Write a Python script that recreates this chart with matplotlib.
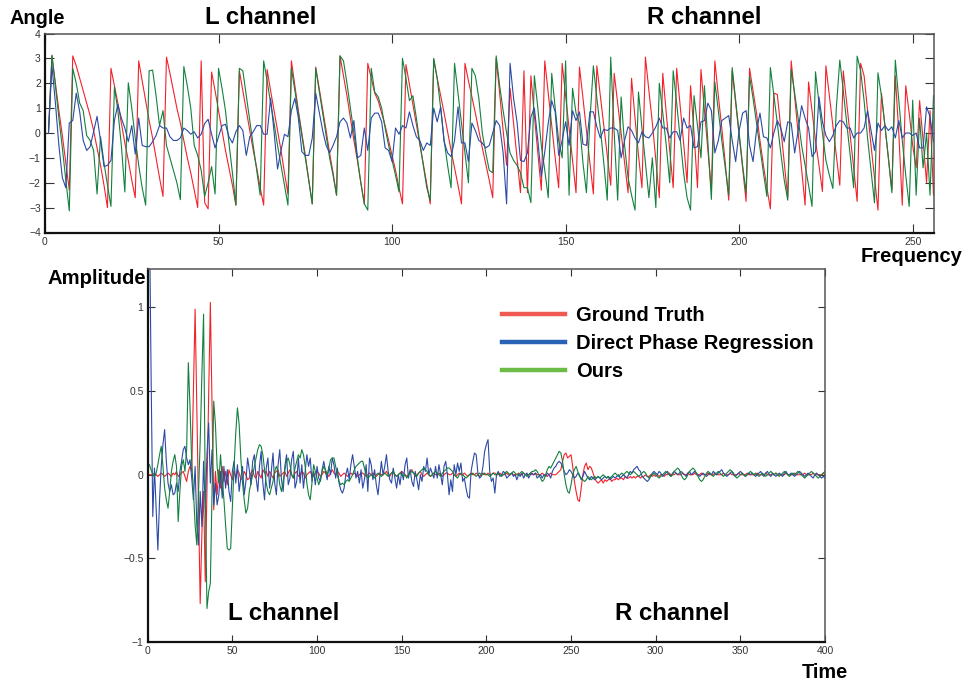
import numpy as np
import matplotlib
matplotlib.use("Agg")
import matplotlib.pyplot as plt
from matplotlib.lines import Line2D

plt.rcParams['font.family'] = ['Liberation Sans', 'DejaVu Sans']

# ---------------- top panel: phase angle per frequency bin (1..256) ----------------
angle_gt = [
 0.0, 3.1, 2.0, 0.9, -0.1, -1.2, -2.3, 3.1, 2.7, 2.2, 1.7, 1.2, 0.7, 0.1, -0.6, -1.3, -2.1, -3.0, 2.6, 1.9,
 1.2, 0.4, -0.4, -1.1, -1.9, -2.6, 2.9, 2.1, 1.3, 0.5, -0.2, -1.0, -1.8, -2.55, 3.05, 2.4, 1.7, 1.0, 0.4, -0.3,
 -1.0, -1.6, -2.3, -3.0, 2.9, -2.8, -3.05, 2.45, 1.7, 0.9, 0.1, -0.7, -1.4, -2.1, -2.9, 2.5, 1.7, 0.9, 0.1, -0.7,
 -1.4, -2.2, -2.9, 2.55, 1.7, 0.9, 0.1, -0.7, -1.6, -2.45, 2.9, 1.9, 0.9, 0.0, -0.9, -1.9, -2.85, 2.65, 1.8, 0.95,
 0.1, -0.8, -1.6, -2.5, 3.1, 2.3, 1.5, 0.6, -0.3, -1.1, -2.0, -2.85, 2.8, 2.2, 1.6, 1.3, 0.8, 0.3, -0.3, -0.9,
 -1.5, -2.2, -2.85, 2.75, 1.95, 1.15, 0.35, -0.45, -1.25, -2.05, -2.85, 2.95, 2.2, 1.5, 0.8, 0.05, -0.7, -1.4, -2.1, -2.85,
 2.8, 2.1, 1.45, 0.8, 0.1, -0.6, -1.25, -1.9, -2.6, 3.0, 1.6, 0.1, -1.3, 1.8, 0.4, -1.0, -2.4, 2.5, -2.4, 2.3,
 0.7, -0.8, -2.3, 2.9, 1.6, 0.3, -1.0, -2.2, 2.8, 1.5, 0.2, -1.1, -2.4, 2.65, 1.4, 0.1, -1.2, -2.45, 2.7, 1.5,
 0.3, -0.9, -2.1, 2.4, 1.2, 0.0, -1.2, -2.4, 2.2, 0.6, -0.9, -2.2, 3.05, 1.7, 0.4, -1.1, -2.6, 2.4, 0.8, -0.7,
 -2.2, 2.6, 1.1, -0.4, -2.0, 1.9, 0.0, -2.2, 2.55, 0.9, -0.7, -2.3, 2.9, 1.5, 0.2, -1.2, -2.7, 2.5, 1.2, -0.1,
 -1.4, -2.75, 2.6, 1.7, 0.8, -0.3, -1.3, -2.2, -3.05, 1.6, 1.55, 0.2, -1.2, -2.6, 2.9, 1.45, 0.0, -1.45, -2.9, 2.05,
 0.9, -0.3, -1.3, -2.35, 2.7, 1.5, 0.3, -0.9, -2.1, 2.5, 1.2, -0.1, -1.4, -2.75, 2.8, 2.3, 0.9, -0.5, -1.8, -3.1,
 1.6, 0.3, -1.0, -2.3, 2.3, 0.0, -2.9, 1.9, 0.8, -0.5, -1.4, 1.3, -0.3, -2.0, 0.9, -2.5]

angle_direct = [
 0.0, 2.7, 1.2, -0.5, -1.8, -2.2, 0.4, 0.5, 1.6, 0.85, -0.3, -0.7, -0.55, 0.05, 0.67, -0.3, -1.35, -1.3, -1.1, 0.5,
 1.15, 0.6, 0.2, -0.35, 0.3, -0.85, 0.6, -0.5, -0.55, -0.55, -0.35, -0.1, 0.3, 0.2, 0.2, -0.15, -0.3, -0.3, -0.2, 0.2,
 0.1, -0.05, 0.05, -0.2, -0.05, 0.38, 0.55, -0.05, -0.6, -0.15, 0.3, 0.35, -0.15, -0.4, 0.05, 0.3, 0.1, -0.9, -0.15, 0.05,
 0.3, 0.3, -0.05, -0.05, 1.4, 0.05, -1.45, -0.7, -0.05, -0.15, 0.9, 1.4, 0.6, -0.75, -0.9, -0.9, -0.2, 1.6, 0.85, 0.1,
 -0.5, -0.8, -0.5, -0.15, 0.45, 0.6, 0.4, -0.2, 0.5, -1.0, -0.9, 0.2, -0.7, 0.6, 0.8, 0.8, 0.45, -0.6, -0.7, -1.15,
 0.2, -0.05, 0.3, 0.2, 0.85, 0.3, -0.15, -0.3, -0.7, -0.4, -0.5, 1.0, 0.45, 1.05, -0.35, -0.8, -0.95, -0.3, 1.05, -0.4,
 -0.4, -1.15, 0.4, 0.1, -0.3, -0.4, -0.6, -0.5, 0.0, 0.5, 0.3, -0.8, -2.85, 2.8, 1.4, 0.45, -1.1, -1.15, -0.8, 0.65,
 1.0, -0.3, -1.75, -0.75, 0.4, 1.3, 0.85, -0.9, -0.3, 0.45, -0.5, 0.9, 0.5, 0.85, -0.45, -0.5, 0.85, 0.85, 0.25, -0.2,
 0.15, 0.1, 0.2, 0.2, 0.1, -1.0, -0.3, 0.25, 0.1, -0.2, -0.4, 0.05, -0.15, -0.2, 0.0, 0.25, 0.6, 0.2, 0.2, -0.2,
 0.05, 0.05, -0.3, 0.6, 0.2, 0.3, -0.6, -0.55, 0.45, 0.5, 1.2, 0.9, -0.8, -0.3, 0.5, 0.6, 0.7, -0.3, -1.15, 0.1,
 0.8, 0.9, -0.5, -1.15, 0.1, 0.8, -0.15, -0.2, -0.6, 0.0, 0.5, 0.2, -0.35, 0.45, 0.4, -0.8, 0.1, 1.1, 0.6, 0.2,
 -0.95, -0.75, 1.45, 0.45, -0.1, -0.35, -0.1, 0.3, 0.5, 0.45, 0.2, 0.2, -0.2, 0.0, 0.0, 0.2, 0.9, 0.1, -0.7, 0.4,
 0.1, 0.3, 0.1, 0.25, -0.2, 0.5, -0.2, 0.0, 0.0, -0.1, 0.0, -0.6, -0.6, 1.05, 0.65, -0.35]

angle_ours = [
 0.0, 3.13, 1.9, 0.6, -0.6, -1.9, -3.13, 2.6, 2.0, 1.2, 0.9, -0.1, -0.3, -0.7, -2.45, -0.15, -1.2, -2.1, -2.95, 1.85,
 0.9, -0.5, -2.37, 2.02, 1.0, -0.2, -1.3, -2.2, -2.9, 2.5, 2.53, 1.5, 0.3, 0.9, -0.5, -1.0, -1.5, -2.0, -2.68, 2.67,
 1.9, 1.0, -0.5, -0.9, -1.5, -2.55, -2.0, -1.35, -2.45, 2.6, 1.8, 0.9, -0.4, -1.6, -2.9, 2.6, 2.5, 1.5, 0.5, -0.5,
 -1.5, -2.5, 2.9, 2.1, 1.2, 0.4, -0.5, -1.3, -2.1, -2.9, 2.6, 1.7, 0.8, -0.1, -1.0, -1.9, -2.85, 2.6, 1.7, 0.8,
 -0.1, -1.0, -1.7, -2.5, 3.1, 2.9, 2.0, 1.0, 0.0, -1.0, -2.0, -2.85, -3.1, 2.6, 1.65, 1.45, 1.0, 0.2, -0.5, -1.1,
 -1.7, -2.37, 3.0, 2.2, 1.3, 1.5, 0.6, -0.4, -1.3, -2.2, -2.7, 3.0, 2.2, 1.0, -0.3, -1.3, -2.2, 2.8, 1.6, 0.4,
 -0.8, -2.0, 2.6, 2.3, 1.4, 0.0, -0.8, -1.5, -1.6, 3.1, 1.9, 0.9, 0.0, -0.8, -1.1, -1.3, -1.6, -2.2, -2.2, -2.8,
 2.3, 1.0, -0.5, -1.5, -2.6, 2.4, 1.0, -0.3, -1.0, 2.9, -2.5, 1.8, 0.8, 0.4, -1.2, -2.4, 0.5, 2.7, 1.4, 0.2,
 -1.2, -2.7, 3.05, 0.0, -2.7, 1.45, -0.5, -1.8, -2.5, -3.1, 1.65, 0.2, -1.2, -2.6, -1.0, -3.0, 2.0, 0.8, -0.5, -2.0,
 2.5, 1.2, -0.2, -1.6, -2.6, -3.1, 1.5, 0.3, -1.0, 1.9, -0.4, -2.67, 2.05, 0.9, -0.3, -1.4, -2.5, 2.63, 1.3, 0.0,
 -1.3, -2.4, 2.28, 1.4, 0.4, -0.6, -1.6, -2.55, 2.63, 1.5, 0.4, -0.8, -1.9, -2.7, 2.55, 1.6, 0.6, -0.5, -1.3, -2.1,
 -2.95, 2.46, 1.2, 0.0, -1.1, -1.7, -2.23, 1.0, 2.93, 1.7, 0.4, -0.9, -2.2, 3.09, 2.5, 1.3, -0.2, -1.5, -2.81, 2.42,
 1.5, 0.3, -1.0, -2.4, 2.93, 1.3, -0.3, -1.7, -2.95, 1.32, -2.5, 0.6, -1.4, 0.0, -2.5, 1.5]

# ---------------- bottom panel: time-domain amplitude (1..400) ----------------
amp_gt = [
 0.00, 0.00, 0.00, 0.01, 0.00, -0.01, 0.00, 0.01, 0.00, -0.01, 0.00, 0.01, 0.00, -0.01, 0.01, 0.00, 0.02, -0.01, 0.00, 0.01,
 0.02, -0.01, -0.04, 0.02, 0.05, 0.02, 0.50, 0.99, 0.40, -0.18, -0.77, -0.35, -0.10, -0.64, -0.10, 0.47, 1.03, 0.40, -0.21, 0.02,
 -0.12, 0.03, -0.08, 0.05, -0.04, 0.02, -0.06, 0.03, 0.00, -0.03, 0.02, -0.02, 0.03, 0.01, -0.03, -0.02, 0.02, 0.00, -0.03, -0.02,
 0.01, 0.03, -0.01, -0.02, 0.02, 0.00, -0.02, 0.03, 0.01, 0.02, -0.01, 0.02, 0.00, -0.02, 0.01, 0.02, 0.03, -0.01, 0.00, 0.01,
 0.02, -0.01, 0.01, 0.03, 0.00, -0.02, 0.01, 0.02, -0.01, 0.00, 0.02, 0.01, -0.02, 0.00, 0.01, 0.02, 0.00, -0.01, 0.01, 0.02,
 0.01, -0.01, 0.00, 0.02, 0.01, 0.00, -0.01, 0.01, 0.03, 0.01, 0.00, 0.02, 0.01, -0.01, 0.00, 0.01, 0.00, -0.01, 0.00, 0.01,
 0.00, 0.01, 0.00, -0.01, 0.00, 0.01, 0.01, 0.00, -0.01, 0.00, 0.01, 0.00, 0.01, 0.00, -0.01, 0.00, 0.01, 0.00, 0.00, 0.01,
 0.02, 0.00, -0.01, 0.01, 0.02, 0.00, -0.01, 0.00, 0.01, 0.02, 0.01, 0.00, -0.01, 0.00, 0.02, 0.03, 0.01, -0.01, 0.00, 0.01,
 0.02, 0.00, -0.01, 0.00, 0.01, 0.00, -0.01, 0.00, 0.01, 0.00, 0.00, 0.01, 0.00, -0.01, 0.00, 0.01, 0.01, 0.00, 0.00, 0.01,
 0.00, -0.01, 0.00, 0.01, 0.00, 0.00, 0.01, 0.00, -0.01, 0.00, 0.01, 0.00, 0.00, 0.01, 0.00, -0.01, 0.00, 0.01, 0.00, 0.00,
 0.01, 0.00, 0.00, 0.01, 0.01, 0.00, 0.00, 0.01, 0.00, 0.00, 0.00, 0.01, 0.00, 0.00, 0.01, 0.00, 0.00, 0.00, 0.01, 0.00,
 0.00, 0.01, 0.00, 0.00, 0.00, 0.01, 0.00, 0.00, 0.01, 0.00, 0.00, 0.00, 0.01, 0.00, 0.00, -0.01, 0.00, 0.01, 0.00, 0.00,
 0.00, 0.01, 0.02, 0.03, 0.08, 0.12, 0.13, 0.10, 0.11, 0.12, 0.05, -0.04, -0.10, -0.15, -0.16, -0.08, 0.00, 0.05, 0.07, 0.03,
 0.05, 0.04, 0.01, -0.02, -0.04, -0.05, -0.04, -0.03, -0.05, -0.03, -0.04, -0.03, -0.02, -0.04, -0.03, -0.03, -0.02, -0.03, -0.02, -0.02,
 -0.03, -0.01, -0.02, -0.02, -0.01, -0.02, -0.01, -0.02, -0.01, -0.01, -0.02, -0.01, -0.01, 0.00, -0.01, -0.01, 0.00, -0.01, 0.00, -0.01,
 0.00, -0.01, 0.00, 0.00, -0.01, 0.00, 0.00, 0.01, 0.00, 0.00, 0.00, 0.01, 0.00, 0.00, 0.00, 0.01, 0.00, 0.00, 0.01, 0.00,
 0.00, 0.00, 0.01, 0.00, 0.00, 0.00, 0.01, 0.00, 0.00, 0.00, 0.01, 0.00, 0.00, 0.00, 0.01, 0.00, 0.00, 0.00, 0.00, 0.01,
 0.00, 0.00, 0.00, 0.01, 0.00, 0.00, 0.00, 0.00, 0.01, 0.00, 0.00, 0.00, 0.00, 0.01, 0.00, 0.00, 0.00, 0.00, 0.00, 0.01,
 0.00, 0.00, 0.00, 0.00, 0.01, 0.00, 0.00, 0.00, 0.00, 0.00, 0.01, 0.00, 0.00, 0.00, 0.00, 0.00, 0.01, 0.00, 0.00, 0.00,
 0.00, 0.01, 0.00, 0.00, 0.00, 0.00, 0.00, 0.01, 0.00, 0.00, 0.00, 0.00, 0.01, 0.00, 0.00, 0.00, 0.00, 0.00, 0.01, 0.00]

amp_direct = [
 1.60, 0.60, -0.25, 0.04, -0.20, -0.45, -0.15, 0.05, 0.18, 0.27, 0.08, -0.05, -0.10, -0.06, -0.12, -0.11, -0.05, -0.10, 0.02, 0.08,
 0.15, 0.17, 0.10, 0.06, 0.09, -0.02, -0.15, 0.05, -0.30, -0.42, -0.10, -0.31, 0.08, -0.20, 0.12, 0.31, -0.05, 0.15, -0.18, -0.05,
 -0.18, -0.12, 0.02, -0.14, 0.05, -0.08, 0.03, -0.10, -0.16, 0.02, 0.08, -0.05, 0.06, -0.10, -0.02, 0.05, -0.12, -0.04, 0.10, 0.03,
 -0.06, 0.08, 0.12, -0.02, -0.10, 0.05, 0.14, -0.05, -0.15, 0.04, 0.10, -0.08, 0.02, 0.13, -0.05, -0.12, 0.06, 0.15, -0.03, -0.10,
 0.05, 0.12, -0.06, -0.02, 0.09, 0.14, -0.08, -0.04, 0.10, -0.05, 0.06, -0.08, 0.02, 0.12, 0.05, 0.10, -0.04, 0.02, -0.06, 0.05,
 -0.02, -0.04, 0.03, 0.08, 0.02, -0.03, 0.05, 0.00, 0.10, 0.06, -0.02, 0.04, -0.05, -0.09, -0.11, -0.08, 0.00, 0.04, -0.03, 0.06,
 0.12, 0.05, -0.02, 0.02, -0.05, 0.03, -0.08, -0.03, 0.06, -0.10, 0.10, 0.06, -0.03, 0.03, -0.06, -0.12, -0.02, 0.08, 0.00, 0.05,
 0.12, 0.02, -0.03, -0.05, 0.04, -0.02, -0.08, 0.00, -0.06, 0.02, -0.03, 0.06, 0.10, -0.02, 0.03, -0.04, -0.07, 0.02, -0.03, -0.09,
 0.00, -0.04, 0.05, 0.02, 0.10, 0.00, 0.04, 0.01, -0.02, 0.05, -0.02, 0.06, 0.00, -0.06, 0.05, 0.08, 0.00, -0.12, -0.03, -0.10,
 0.06, 0.00, 0.07, 0.02, 0.07, -0.04, -0.02, -0.08, -0.13, -0.14, 0.02, 0.08, 0.13, 0.12, 0.01, -0.02, -0.01, 0.05, 0.14, 0.18,
 0.21, 0.02, -0.04, -0.02, -0.11, 0.00, 0.02, -0.01, 0.00, 0.02, 0.01, -0.02, -0.01, 0.00, 0.01, -0.01, 0.00, -0.03, 0.00, -0.01,
 0.01, -0.02, 0.00, 0.01, -0.02, 0.00, 0.01, 0.00, 0.01, -0.02, -0.01, 0.00, -0.02, 0.00, -0.01, 0.01, 0.00, -0.02, 0.02, 0.04,
 0.05, 0.07, 0.08, 0.07, 0.05, 0.02, 0.00, 0.01, 0.03, 0.02, 0.00, -0.02, -0.01, 0.01, 0.00, -0.03, -0.01, 0.02, 0.00, -0.02,
 -0.03, -0.01, -0.02, -0.03, -0.02, -0.01, -0.02, -0.03, -0.02, -0.01, -0.02, -0.01, -0.03, -0.02, -0.01, -0.02, -0.01, 0.00, -0.02, -0.01,
 0.00, -0.01, -0.02, 0.00, 0.02, 0.01, 0.03, 0.04, 0.05, 0.03, 0.02, -0.01, -0.02, -0.03, -0.04, -0.03, -0.01, 0.01, 0.02, 0.01,
 0.00, 0.02, 0.01, -0.01, 0.00, 0.01, 0.02, 0.00, -0.01, 0.01, 0.02, 0.01, 0.00, 0.01, 0.02, 0.01, 0.00, -0.01, 0.01, 0.02,
 0.00, 0.01, 0.02, 0.01, 0.00, -0.01, 0.00, 0.01, 0.00, -0.01, 0.00, 0.01, 0.00, 0.02, 0.01, 0.00, 0.01, 0.02, 0.03, 0.01,
 0.00, -0.01, 0.00, 0.01, 0.02, 0.00, -0.01, 0.00, 0.01, 0.02, 0.01, 0.00, -0.01, 0.00, 0.01, 0.00, 0.01, 0.00, -0.01, 0.00,
 0.01, 0.02, 0.00, -0.01, 0.01, 0.02, 0.00, -0.01, 0.01, 0.00, -0.01, 0.00, 0.01, 0.00, -0.01, 0.01, 0.02, 0.00, 0.00, 0.01,
 0.00, -0.01, 0.00, 0.01, 0.02, 0.01, 0.00, -0.01, 0.00, 0.01, 0.00, -0.01, -0.02, 0.00, 0.01, 0.00, -0.01, -0.02, -0.01, -0.02]

amp_ours = [
 0.06, 0.03, 0.00, -0.01, 0.01, 0.06, 0.12, 0.17, 0.05, -0.08, -0.15, -0.20, -0.10, 0.02, 0.08, 0.12, 0.05, -0.28, -0.10, 0.05,
 0.09, 0.02, 0.15, 0.67, 0.40, 0.07, -0.10, -0.30, -0.42, -0.10, 0.20, 0.60, 0.96, -0.10, -0.80, -0.70, -0.65, -0.10, 0.44, 0.30,
 0.05, -0.05, 0.12, -0.02, -0.15, -0.30, -0.44, -0.45, -0.44, -0.20, 0.05, 0.25, 0.40, 0.30, 0.10, -0.05, -0.15, -0.23, -0.20, -0.10,
 -0.05, 0.00, 0.05, 0.10, 0.15, 0.18, 0.17, 0.12, 0.03, -0.05, -0.10, -0.12, -0.08, -0.04, 0.02, 0.05, 0.02, -0.06, -0.10, -0.04,
 0.03, 0.08, 0.10, 0.06, 0.00, -0.02, 0.04, 0.08, 0.12, 0.10, 0.15, 0.12, 0.05, -0.05, -0.12, -0.15, -0.05, 0.06, 0.02, -0.02,
 -0.06, -0.03, 0.02, 0.05, 0.03, 0.00, 0.04, 0.09, 0.10, 0.10, 0.05, 0.00, -0.04, -0.06, -0.05, -0.06, -0.04, -0.03, -0.04, -0.02,
 0.00, 0.03, 0.05, 0.06, 0.07, 0.08, 0.08, 0.04, 0.00, -0.02, -0.01, 0.00, -0.01, -0.02, 0.00, 0.01, 0.00, -0.01, 0.00, 0.01,
 0.00, -0.01, 0.00, 0.01, 0.02, 0.00, -0.01, 0.00, 0.01, 0.00, -0.01, 0.00, -0.02, 0.00, 0.01, 0.02, 0.01, 0.00, -0.01, 0.01,
 0.02, 0.03, 0.04, 0.03, 0.02, 0.00, -0.01, 0.00, 0.01, 0.02, 0.01, 0.00, -0.01, 0.01, 0.02, 0.03, 0.04, 0.04, 0.03, 0.02,
 0.00, -0.01, -0.02, 0.00, 0.01, 0.00, -0.01, -0.02, -0.01, 0.00, 0.00, 0.01, 0.00, -0.01, 0.00, 0.01, 0.00, 0.00, 0.01, 0.00,
 0.00, -0.01, 0.00, 0.01, 0.00, 0.00, 0.01, 0.00, -0.01, 0.00, 0.01, 0.02, 0.01, 0.00, 0.01, 0.02, 0.01, 0.00, 0.00, 0.01,
 0.02, 0.01, 0.00, -0.01, 0.00, 0.01, 0.02, 0.02, 0.03, 0.02, 0.00, -0.02, -0.04, -0.03, 0.00, 0.03, 0.05, 0.04, 0.06, 0.08,
 0.10, 0.12, 0.14, 0.13, 0.08, 0.00, -0.06, -0.10, -0.11, -0.06, 0.00, 0.03, 0.05, 0.02, -0.01, -0.02, -0.03, -0.04, -0.03, -0.01,
 -0.02, -0.03, -0.02, -0.01, -0.02, -0.01, -0.02, -0.01, 0.00, -0.01, -0.02, -0.01, -0.02, -0.01, 0.00, 0.01, 0.00, -0.01, 0.00, 0.01,
 0.00, 0.01, 0.02, 0.01, 0.00, 0.01, 0.02, 0.01, 0.00, -0.01, 0.00, 0.01, 0.02, 0.01, -0.01, -0.02, -0.01, 0.00, 0.01, 0.00,
 -0.01, -0.02, -0.01, 0.00, 0.01, 0.02, 0.01, 0.00, -0.01, 0.00, 0.02, 0.03, 0.04, 0.03, 0.00, -0.02, -0.03, -0.02, 0.00, 0.02,
 0.03, 0.04, 0.03, 0.01, -0.01, -0.03, -0.04, -0.03, -0.01, 0.01, 0.02, 0.01, 0.00, -0.01, 0.00, 0.01, 0.02, 0.01, 0.00, -0.01,
 0.00, 0.01, 0.02, 0.03, 0.02, 0.01, -0.01, -0.02, -0.01, 0.00, 0.01, 0.00, -0.01, 0.00, 0.01, 0.02, 0.01, 0.00, 0.01, 0.00,
 -0.01, 0.00, 0.01, 0.00, -0.01, 0.00, 0.01, 0.02, 0.01, 0.00, 0.01, 0.00, -0.01, 0.00, 0.01, 0.02, 0.01, 0.00, -0.01, 0.00,
 0.01, 0.00, 0.01, 0.02, 0.01, 0.00, -0.01, -0.02, -0.01, 0.00, 0.01, 0.02, 0.01, 0.00, -0.01, -0.02, -0.01, 0.00, 0.01, 0.02]

series_labels = ["Ground Truth", "Direct Phase Regression", "Ours"]
top_xticks = [0, 50, 100, 150, 200, 250]
top_yticks = [-4, -3, -2, -1, 0, 1, 2, 3, 4]
bot_xticks = [0, 50, 100, 150, 200, 250, 300, 350, 400]
bot_yticks = [-1, -0.5, 0, 0.5, 1]
bot_yticklabels = ["\u22121", "\u22120.5", "0", "0.5", "1"]

RED, BLUE, GREEN = "#f2222b", "#2c4aa6", "#13813e"
LEG_RED, LEG_BLUE, LEG_GREEN = "#ee5a52", "#2a62b5", "#6cbd47"

W, H = 966, 684
fig = plt.figure(figsize=(W / 100, H / 100), dpi=100)


def style_axes(ax, ticklen):
    for side in ("left", "bottom"):
        ax.spines[side].set_linewidth(1.6)
        ax.spines[side].set_color("#111111")
    for side in ("top", "right"):
        ax.spines[side].set_linewidth(1.1)
        ax.spines[side].set_color("#555555")
    ax.tick_params(direction="in", top=True, right=True, length=ticklen, width=0.8,
                   labelsize=7.5, labelcolor="#333333", color="#333333", pad=3)


# top panel
ax1 = fig.add_axes([45 / W, 1 - 232.5 / H, 888.5 / W, 199 / H])
f = np.arange(1, len(angle_gt) + 1)
ax1.plot(f, angle_gt, color=RED, lw=0.8)
ax1.plot(f, angle_ours, color=GREEN, lw=0.8)
ax1.plot(f, angle_direct, color=BLUE, lw=0.8)
ax1.set_xlim(0, 256)
ax1.set_ylim(-4, 4)
ax1.set_xticks(top_xticks)
ax1.set_yticks(top_yticks)
ax1.set_yticklabels(["\u2212%d" % -v if v < 0 else "%d" % v for v in top_yticks])
style_axes(ax1, 6.5)

# bottom panel
ax2 = fig.add_axes([147.7 / W, 1 - 642 / H, 677.3 / W, 373 / H])
t = np.arange(1, len(amp_gt) + 1)
ax2.plot(t, amp_gt, color=RED, lw=0.8)
ax2.plot(t, amp_direct, color=BLUE, lw=0.8)
ax2.plot(t, amp_ours, color=GREEN, lw=0.8)
ax2.set_xlim(0, 400)
ax2.set_ylim(-1, 1.23)
ax2.set_xticks(bot_xticks)
ax2.set_yticks(bot_yticks)
ax2.set_yticklabels(bot_yticklabels)
style_axes(ax2, 5)

handles = [Line2D([], [], color=c, lw=3.2) for c in (LEG_RED, LEG_BLUE, LEG_GREEN)]
ax2.legend(handles, series_labels, loc="upper left", bbox_to_anchor=(0.5225, 0.902),
           frameon=False, borderpad=0, borderaxespad=0, handlelength=3.13,
           handletextpad=0.55, labelspacing=0.47,
           prop={"family": "Liberation Sans", "weight": "bold", "size": 14.5})

# annotations
bold = dict(weight="bold", color="black")
fig.text(10 / W, 1 - 18 / H, "Angle", ha="left", va="center", fontsize=14.3, **bold)
fig.text(261 / W, 1 - 17.5 / H, "L channel", ha="center", va="center", fontsize=17.3, **bold)
fig.text(704 / W, 1 - 17.5 / H, "R channel", ha="center", va="center", fontsize=17.3, **bold)
fig.text(962 / W, 1 - 256 / H, "Frequency", ha="right", va="center", fontsize=14.5, **bold)
fig.text(47 / W, 1 - 278 / H, "Amplitude", ha="left", va="center", fontsize=14.6, **bold)
fig.text(825 / W, 1 - 673 / H, "Time", ha="center", va="center", fontsize=14.3, **bold)
fig.text(284 / W, 1 - 614 / H, "L channel", ha="center", va="center", fontsize=17.3, **bold)
fig.text(672 / W, 1 - 614 / H, "R channel", ha="center", va="center", fontsize=17.3, **bold)

fig.savefig("out.png", dpi=100)
